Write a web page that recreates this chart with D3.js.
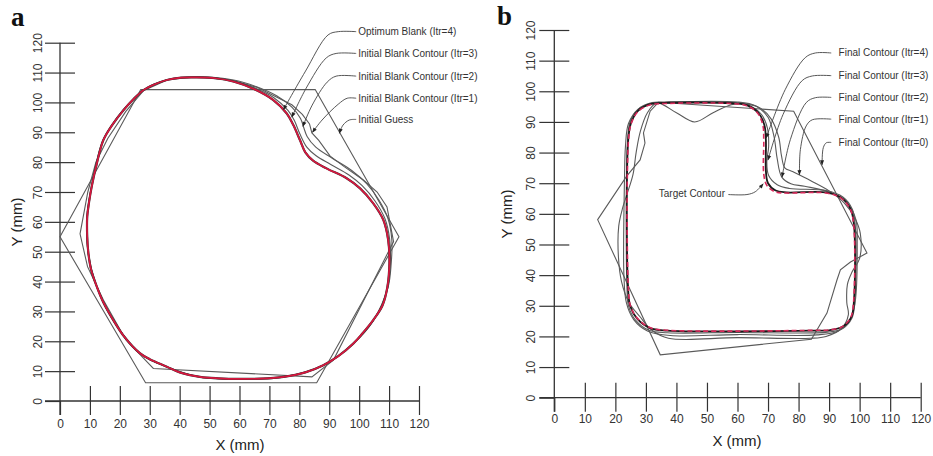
<!DOCTYPE html>
<html>
<head>
<meta charset="utf-8">
<script src="https://cdn.jsdelivr.net/npm/d3@7"></script>
<style>
  body { margin: 0; background: #fff; }
  svg { font-family: "Liberation Sans", Arial, sans-serif; }
  .contour { fill: none; stroke: #5a5a5a; stroke-width: 1.1; }
  .leader { fill: none; stroke: #444; stroke-width: 0.9; }
  .note { font-size: 10px; fill: #333; }
  .ticklab { font-size: 12px; fill: #333; }
  .title { font-size: 15px; fill: #222; }
  .panel { font-family: "Liberation Serif", "Times New Roman", serif; font-weight: bold; font-size: 27px; fill: #111; }
</style>
</head>
<body>
<div id="chart"></div>
<script>
var svgWidth = 933;
var svgHeight = 456;

// shared axis ticks (mm)
var axisTicks = [0, 10, 20, 30, 40, 50, 60, 70, 80, 90, 100, 110, 120];

// ---- panel a : blank contours (mm) ----
var aGuess = [[0, 55], [27, 104.3], [85.3, 104.3], [113.3, 55], [85.8, 6.1], [28.6, 6.1]];

var aItr1 = [[6.7, 56], [9.3, 70], [12, 80], [16, 88], [22, 97], [28, 104], [36, 107.6], [46, 108.6],
  [58, 107.3], [66, 105], [72, 102], [77.5, 99.2], [81, 96], [83.4, 92.8], [84.2, 89.8], [86.5, 87.3],
  [90.3, 82], [95, 78.5], [101.4, 74], [106, 70], [109.3, 65], [111.5, 53.4], [91.4, 13.7], [84.2, 8.1],
  [31.2, 10.9], [22, 20.5], [14.5, 33.8], [9.2, 45]];

var aItr2 = [[45.7, 108.6], [58, 107.5], [65.5, 105.3], [72.4, 102.2], [77.5, 98.4], [80.4, 94.6],
  [81.5, 91.5], [82.6, 88.6], [85.5, 85], [91, 81.3], [97.5, 77.2], [102.5, 72.8], [106.6, 67.3],
  [109.6, 61.2], [110.9, 54.2], [110.7, 46], [109.6, 37.8], [104.8, 27], [98.1, 19.2], [88, 11.9],
  [74.7, 8], [60.2, 7.3], [46.8, 8], [35.7, 11.4], [26.7, 15.9], [17.8, 27], [12.3, 38.2], [9.4, 49.4],
  [9, 61.7], [10.5, 71.8], [14.4, 87.4], [21.1, 97.5], [27.9, 104.2], [35.7, 107.6]];

var aItr3 = [[45.7, 108.5], [58, 107.2], [65, 104.9], [71.6, 101.5], [76.2, 97.3], [78.3, 94],
  [80.2, 89.4], [82.5, 85], [85.5, 82.2], [90.5, 79.2], [96.6, 75.7], [101, 72.1], [105.3, 67],
  [108.6, 61.1], [110.2, 54.1], [110.4, 46.1], [109.5, 38], [104.8, 27.1], [98.1, 19.3], [88, 12],
  [74.7, 8.1], [60.2, 7.4], [46.8, 8.1], [35.7, 11.5], [26.7, 16], [17.8, 27.1], [12.3, 38.3],
  [9.5, 49.4], [9.1, 61.7], [10.6, 71.8], [14.5, 87.4], [21.2, 97.4], [27.9, 104.1], [35.7, 107.5]];

// optimum blank (Itr=4) and red reference are practically the same curve
var aOptimum = [[45.7, 108.4], [52, 108.1], [57.9, 107], [64.6, 104.6], [71.3, 100.8], [75.8, 96.3],
  [78, 92.4], [80.2, 87.4], [82, 83.3], [84.6, 80.5], [89.1, 77.9], [95.8, 74.6], [100.3, 71.2],
  [104.7, 66.2], [108.1, 60.6], [109.7, 53.9], [110.1, 46.1], [109.4, 38], [107.8, 32], [104.7, 27.1],
  [101, 22.5], [98.1, 19.3], [93, 15], [88, 12], [82, 9.6], [74.7, 8.1], [67, 7.5], [60.2, 7.4],
  [53, 7.6], [46.8, 8.1], [40, 9.6], [35.7, 11.5], [30, 14], [26.7, 16], [21.5, 21.5], [17.8, 27.1],
  [14.5, 33], [12.3, 38.3], [10.4, 44], [9.5, 49.4], [9.1, 55], [9.1, 61.7], [9.7, 66.5], [10.6, 71.8],
  [12.3, 79.5], [14.5, 87.4], [17.5, 92.5], [21.2, 97.4], [24.5, 101], [27.9, 104.1], [31.5, 106],
  [35.7, 107.5], [40.5, 108.3]];

var aLabels = ["Optimum Blank (Itr=4)", "Initial Blank Contour (Itr=3)", "Initial Blank Contour (Itr=2)",
  "Initial Blank Contour (Itr=1)", "Initial Guess"];
var aLabelPos = [[99.7, 123.7], [99.7, 116.4], [99.7, 108.8], [99.7, 101.4], [99.7, 94.3]];
var aLeaders = [
  [[99, 123.7], [93, 123.7], [89.6, 122.6], [81.9, 110.2], [74.7, 97.6]],
  [[99, 116.4], [92.3, 116.4], [89, 114.9], [82.3, 104.8], [77.5, 95.1]],
  [[99, 108.8], [92.3, 108.8], [89.3, 106.8], [84.3, 99.1], [81.2, 92]],
  [[99, 101.4], [96, 101.4], [93, 99.4], [87.6, 94.1], [84.4, 90]],
  [[99, 94.3], [96.7, 94.1], [94.6, 92.4], [93.4, 89.7]]
];

// ---- panel b : final contours (mm) ----
var bItr0 = [[34.1, 96.4], [78.4, 93.5], [102.4, 47.2], [97, 44.3], [93.7, 41.7], [92.6, 38.5],
  [89.3, 27.6], [84.2, 19.1], [34.7, 14], [14.2, 58.1], [23.7, 72.3], [28.1, 77.6], [29.7, 83.1],
  [29.2, 86.4], [31.4, 93.5]];

var bItr1 = [[33.6, 96.2], [40, 93], [46, 90], [52, 93], [58, 95.6], [63, 95.8], [67.5, 94.5], [71, 91],
  [73.5, 85], [74.4, 79], [75.5, 75], [78, 73.8], [84, 70.8], [90, 67.5], [95, 63.5], [98.5, 58.5],
  [100.2, 53.7], [100, 45.5], [97.5, 41], [96, 37], [95.8, 31], [96.3, 27], [94, 22.5], [89, 20],
  [84, 19.4], [60, 19.6], [37.4, 19.4], [32, 22], [28, 26.5], [24.5, 31], [22, 38], [21, 46],
  [21.1, 56], [22.4, 62], [24, 67], [25.8, 73], [26.8, 80], [28.2, 87], [30.5, 93]];

var bItr2 = [[23.3, 82], [24.3, 89.5], [27.5, 94.2], [32, 96.3], [36, 96.5], [60, 96.5], [66, 95.2],
  [70, 91.5], [72, 85], [73, 78], [74.5, 72], [77.5, 69.8], [82, 69], [91, 66.8], [96, 63.5], [98.8, 58],
  [99.2, 50], [98.5, 31], [97, 25.5], [93, 21.8], [86, 20.5], [60, 20.6], [38, 20.3], [30.5, 21.8],
  [26, 25.5], [23.6, 31], [22.8, 40], [22.8, 60], [23, 72]];

var bItr3 = [[24, 84], [24.8, 90], [27.3, 94], [31.5, 96], [36, 96.3], [58.5, 96.3], [64, 95.3],
  [67.8, 92.5], [69.8, 88], [70.2, 82], [69.6, 77], [70.2, 72.5], [73, 69.5], [77, 68.3], [89, 67.6],
  [94.5, 65.5], [97.6, 61.5], [98.6, 56], [98.4, 31], [97.5, 26], [94.5, 22.6], [89.5, 21.4], [60, 21.3],
  [37, 21.2], [31, 22], [26.6, 25.3], [24.3, 30], [23.8, 36]];

var bItr4 = [[24.2, 84], [25.1, 89.6], [27.4, 93.6], [31.5, 95.8], [36, 96.2], [58, 96.1], [63.2, 95.4],
  [66.8, 93], [68.8, 89], [69.3, 84], [69.3, 74], [70, 70], [72.5, 67.6], [76, 67], [89, 67], [93.9, 65.3],
  [96.9, 61.8], [98.1, 57], [98.1, 31], [97.3, 26.4], [94.5, 23.2], [90, 22], [86, 21.9], [37, 21.9],
  [31.4, 22.7], [27.2, 25.7], [24.9, 29.8], [24.2, 35]];

var bTarget = [[24.3, 84], [25.2, 89.5], [27.5, 93.5], [31.5, 95.6], [36, 96], [58, 96], [63, 95.3],
  [66.5, 93], [68.3, 89], [68.6, 84], [68.6, 73], [69.6, 69.3], [72.3, 67.2], [76, 66.8], [89, 66.8],
  [93.8, 65.2], [96.8, 61.8], [98, 57], [98, 31], [97.2, 26.5], [94.5, 23.3], [90, 22.1], [86, 22],
  [37, 22], [31.5, 22.8], [27.3, 25.8], [25, 29.8], [24.3, 35]];

var bLabels = ["Final Contour (Itr=4)", "Final Contour (Itr=3)", "Final Contour (Itr=2)",
  "Final Contour (Itr=1)", "Final Contour (Itr=0)"];
var bLabelPos = [[93.1, 112.5], [93.1, 105.1], [93.1, 98], [93.1, 90.9], [93.1, 83.3]];
var bLeaders = [
  [[90.7, 112.5], [85.5, 112.5], [82.2, 111], [75.6, 100.5], [69.4, 84.8]],
  [[90.7, 105.1], [84.5, 105], [81.2, 103.5], [74.9, 92.4], [70, 77.6]],
  [[90.7, 98], [85.5, 97.9], [82.5, 96.3], [77.3, 84.2], [74.6, 72]],
  [[90.7, 90.9], [84.5, 90.7], [82.5, 88.7], [80.6, 81], [80.3, 72.8]],
  [[90.7, 83.3], [89.1, 83.2], [88.1, 81.6], [87.7, 76]]
];
var bTargetLabel = "Target Contour";
var bTargetLabelPos = [55.9, 66.5];
var bTargetLeader = [[57, 66.3], [63.1, 66.3], [65.8, 67.2], [68.4, 69.8]];

var svg = d3.select("#chart")
  .append("svg")
  .attr("width", svgWidth)
  .attr("height", svgHeight);

var defs = svg.append("defs");
defs.append("marker")
  .attr("id", "arrow")
  .attr("viewBox", "0 0 10 10")
  .attr("refX", 9)
  .attr("refY", 5)
  .attr("markerWidth", 6)
  .attr("markerHeight", 5)
  .attr("markerUnits", "userSpaceOnUse")
  .attr("orient", "auto")
  .append("path")
  .attr("d", "M0,1 L10,5 L0,9 Z")
  .attr("fill", "#222");

var smooth = d3.line().curve(d3.curveCatmullRomClosed.alpha(0.5));
var straight = d3.line().curve(d3.curveLinearClosed);
var leaderLine = d3.line().curve(d3.curveCatmullRom.alpha(0.5));

function drawAxes(g, x, y, p) {
  var x0 = x(0), y0 = y(0);

  // x axis: ticks cross the line
  var xAxis = g.append("g")
    .attr("transform", `translate(0, ${y0})`)
    .call(d3.axisBottom(x).tickValues(axisTicks).tickSizeInner(14).tickSizeOuter(0).tickPadding(p.xPad));
  xAxis.select(".domain").remove();
  xAxis.attr("font-size", null).attr("font-family", null);
  xAxis.selectAll(".tick line")
    .attr("y1", d => d === 0 ? 0 : -15)
    .attr("stroke", "#333").attr("stroke-width", 1.2);
  xAxis.selectAll(".tick text").attr("class", "ticklab").attr("fill", null);

  // y axis with rotated labels
  var yAxis = g.append("g")
    .attr("transform", `translate(${x0}, 0)`)
    .call(d3.axisLeft(y).tickValues(axisTicks).tickSizeInner(15).tickSizeOuter(0));
  yAxis.select(".domain").remove();
  yAxis.attr("font-size", null).attr("font-family", null);
  yAxis.selectAll(".tick line")
    .attr("x2", -15)
    .attr("x1", d => d === 0 ? 0 : 15)
    .attr("stroke", "#333").attr("stroke-width", 1.2);
  yAxis.selectAll(".tick text")
    .attr("class", "ticklab").attr("fill", null)
    .attr("x", null).attr("dy", "0.35em")
    .attr("text-anchor", "middle")
    .attr("transform", `translate(${-p.yLab}, 0) rotate(-90)`);

  g.append("line")
    .attr("x1", x0 - 15).attr("x2", x(120))
    .attr("y1", y0).attr("y2", y0)
    .attr("stroke", "#333").attr("stroke-width", 1.3);
  g.append("line")
    .attr("x1", x0).attr("x2", x0)
    .attr("y1", y(120)).attr("y2", y0 + 14)
    .attr("stroke", "#333").attr("stroke-width", 1.3);

  g.append("text").attr("class", "title")
    .attr("x", p.xTitle[0]).attr("y", p.xTitle[1])
    .attr("text-anchor", "middle").attr("dy", "0.35em")
    .text("X (mm)");
  g.append("text").attr("class", "title")
    .attr("transform", `translate(${p.yTitle[0]}, ${p.yTitle[1]}) rotate(-90)`)
    .attr("text-anchor", "middle").attr("dy", "0.35em")
    .text("Y (mm)");
}

function toPx(x, y, pts) {
  return pts.map(d => [x(d[0]), y(d[1])]);
}

function drawNotes(g, x, y, labels, pos, leaders) {
  leaders.forEach(function(pts, i) {
    g.append("path").attr("class", "leader")
      .attr("d", leaderLine(toPx(x, y, pts)))
      .attr("marker-end", "url(#arrow)");
    g.append("text").attr("class", "note")
      .attr("x", x(pos[i][0])).attr("y", y(pos[i][1]))
      .attr("dy", "0.35em")
      .text(labels[i]);
  });
}

// ---------- panel a ----------
var ax = d3.scaleLinear().domain([0, 120]).range([60, 419]);
var ay = d3.scaleLinear().domain([0, 120]).range([401, 42.7]);
var ga = svg.append("g");

drawAxes(ga, ax, ay, { xPad: 4, yLab: 22, xTitle: [240, 445], yTitle: [17, 222] });

ga.append("path").attr("class", "contour").attr("d", straight(toPx(ax, ay, aGuess)));
ga.append("path").attr("class", "contour").attr("d", straight(toPx(ax, ay, aItr1)));
ga.append("path").attr("class", "contour").attr("d", smooth(toPx(ax, ay, aItr2)));
ga.append("path").attr("class", "contour").attr("d", smooth(toPx(ax, ay, aItr3)));
ga.append("path").attr("d", smooth(toPx(ax, ay, aOptimum)))
  .attr("fill", "none").attr("stroke", "#333").attr("stroke-width", 2.2);
ga.append("path").attr("d", smooth(toPx(ax, ay, aOptimum)))
  .attr("fill", "none").attr("stroke", "#d8163e").attr("stroke-width", 1.7);

drawNotes(ga, ax, ay, aLabels, aLabelPos, aLeaders);

ga.append("text").attr("class", "panel").attr("x", 11).attr("y", 26).text("a");

// ---------- panel b ----------
var bx = d3.scaleLinear().domain([0, 120]).range([554.3, 920.7]);
var by = d3.scaleLinear().domain([0, 120]).range([397.7, 30]);
var gb = svg.append("g");

drawAxes(gb, bx, by, { xPad: 3, yLab: 24, xTitle: [737, 441], yTitle: [507, 214] });

gb.append("path").attr("class", "contour").attr("d", straight(toPx(bx, by, bItr0)));
gb.append("path").attr("class", "contour").attr("d", smooth(toPx(bx, by, bItr1)));
gb.append("path").attr("class", "contour").attr("d", smooth(toPx(bx, by, bItr2)));
gb.append("path").attr("class", "contour").attr("d", smooth(toPx(bx, by, bItr3)));
gb.append("path").attr("d", smooth(toPx(bx, by, bItr4)))
  .attr("fill", "none").attr("stroke", "#1a1a1a").attr("stroke-width", 1.8);
gb.append("path").attr("d", smooth(toPx(bx, by, bTarget)))
  .attr("fill", "none").attr("stroke", "#d8285a").attr("stroke-width", 1.6)
  .attr("stroke-dasharray", "5,3");

drawNotes(gb, bx, by, bLabels, bLabelPos, bLeaders);

gb.append("path").attr("class", "leader")
  .attr("d", leaderLine(toPx(bx, by, bTargetLeader)))
  .attr("marker-end", "url(#arrow)");
gb.append("text").attr("class", "note")
  .attr("x", bx(bTargetLabelPos[0])).attr("y", by(bTargetLabelPos[1]))
  .attr("dy", "0.35em").attr("text-anchor", "end")
  .text(bTargetLabel);

gb.append("text").attr("class", "panel").attr("x", 497).attr("y", 25).text("b");
</script>
</body>
</html>
